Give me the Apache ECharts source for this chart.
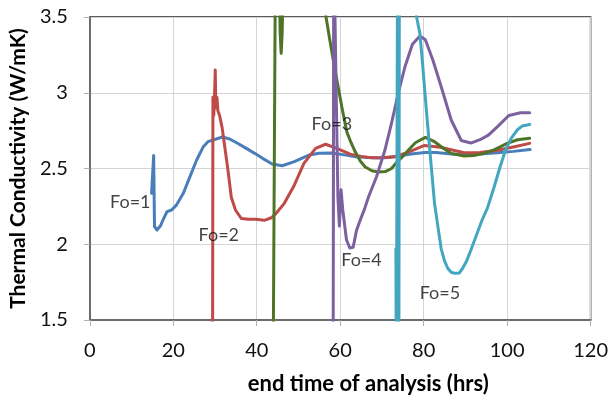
<!DOCTYPE html>
<html>
<head>
<meta charset="utf-8">
<script src="https://cdn.jsdelivr.net/npm/echarts@6/dist/echarts.min.js"></script>
<style>
  html, body { margin: 0; padding: 0; background: #fff; }
  #chart { width: 611px; height: 401px; }
</style>
</head>
<body>
<div id="chart"></div>
<script>
// Apparent thermal conductivity vs. end time of analysis, one curve per Fourier number.
// Values outside 1.5–3.5 are left in so the spikes run off the plot and get clipped.

const fo1Hours  = [14.8, 15.3, 15.5, 16.1, 16.9, 17.7, 18.5, 19.6, 20.8, 22.4, 24.0, 25.6, 27.2, 28.3, 30.3, 31.8, 33.5, 35.5, 37.5, 39.5, 41.4, 43.7, 46.1, 49.0, 52.5, 55.0, 58.0, 61.0, 63.7, 66.5, 69.2, 71.5, 74.0, 77.0, 80.3, 83.0, 86.0, 89.8, 93.5, 97.7, 101.5, 105.5];
const fo1Values = [2.336, 2.585, 2.116, 2.094, 2.12, 2.17, 2.215, 2.226, 2.26, 2.336, 2.446, 2.556, 2.644, 2.677, 2.695, 2.708, 2.695, 2.665, 2.633, 2.60, 2.567, 2.53, 2.518, 2.545, 2.589, 2.60, 2.603, 2.59, 2.578, 2.572, 2.569, 2.573, 2.583, 2.595, 2.606, 2.605, 2.597, 2.589, 2.595, 2.604, 2.613, 2.625];

const fo2Hours  = [29.4, 29.5, 29.7, 29.9, 30.05, 30.2, 30.45, 30.7, 31.1, 31.7, 32.3, 33.1, 33.9, 34.9, 36.3, 38.0, 39.8, 41.8, 43.5, 44.5, 46.6, 49.0, 51.3, 54.1, 56.5, 59.2, 62.4, 65.0, 67.5, 70.5, 73.1, 76.5, 80.2, 84.0, 89.7, 93.5, 97.7, 101.5, 105.4];
const fo2Values = [1.0, 2.97, 2.85, 2.99, 3.15, 2.9, 2.97, 2.88, 2.85, 2.77, 2.65, 2.49, 2.31, 2.226, 2.17, 2.165, 2.165, 2.158, 2.175, 2.2, 2.27, 2.39, 2.534, 2.633, 2.66, 2.633, 2.595, 2.58, 2.571, 2.572, 2.578, 2.61, 2.652, 2.64, 2.604, 2.605, 2.62, 2.642, 2.666];

const fo3Hours  = [43.9, 44.5, 45.3, 45.6, 45.85, 46.1, 46.5, 51.0, 56.6, 57.5, 58.5, 59.5, 60.5, 61.6, 62.6, 63.6, 64.8, 66.0, 67.6, 69.2, 70.8, 72.3, 73.5, 75.0, 76.3, 78.0, 80.4, 82.6, 84.2, 86.5, 89.7, 92.0, 94.5, 97.0, 100.0, 102.5, 105.4];
const fo3Values = [1.0, 4.0, 4.0, 3.4, 3.26, 3.4, 4.0, 4.5, 3.5, 3.35, 3.19, 3.04, 2.89, 2.74, 2.67, 2.61, 2.55, 2.51, 2.485, 2.477, 2.48, 2.50, 2.54, 2.58, 2.62, 2.67, 2.705, 2.677, 2.644, 2.60, 2.583, 2.585, 2.60, 2.625, 2.666, 2.69, 2.70];

const fo4Hours  = [58.3, 58.45, 58.9, 59.0, 59.45, 59.8, 60.2, 60.6, 61.0, 61.5, 62.3, 63.1, 63.9, 64.8, 65.8, 66.8, 68.7, 70.7, 72.3, 73.9, 75.5, 77.3, 79.1, 80.4, 82.2, 84.2, 86.6, 89.0, 91.3, 93.5, 95.5, 97.7, 100.4, 103.2, 105.4];
const fo4Values = [1.0, 4.0, 4.0, 4.0, 2.31, 2.12, 2.36, 2.23, 2.22, 2.03, 1.975, 1.98, 2.09, 2.16, 2.23, 2.314, 2.446, 2.62, 2.80, 2.996, 3.17, 3.32, 3.375, 3.35, 3.216, 3.04, 2.82, 2.685, 2.668, 2.69, 2.72, 2.776, 2.85, 2.868, 2.868];

const fo5Hours  = [73.35, 73.45, 73.75, 73.8, 74.0, 74.05, 74.1, 74.2, 76.0, 78.3, 79.1, 79.8, 80.6, 81.6, 82.6, 83.5, 84.2, 85.0, 85.8, 86.6, 87.5, 88.5, 89.3, 90.3, 91.3, 92.5, 94.0, 95.3, 96.9, 98.3, 99.6, 101.0, 102.4, 103.6, 105.4];
const fo5Values = [1.97, 1.0, 1.0, 4.5, 4.5, 1.0, 1.0, 4.5, 5.0, 3.5, 3.39, 3.17, 2.90, 2.58, 2.27, 2.10, 1.97, 1.89, 1.84, 1.815, 1.808, 1.81, 1.84, 1.89, 1.96, 2.05, 2.16, 2.24, 2.38, 2.51, 2.62, 2.70, 2.754, 2.78, 2.79];

// Curve names and where each name sits (hours, W/mK)
const curveNames  = ['Fo=1', 'Fo=2', 'Fo=3', 'Fo=4', 'Fo=5'];
const labelHours  = [9.7, 30.9, 58.0, 65.1, 83.9];
const labelValues = [2.279, 2.058, 2.794, 1.896, 1.678];

const xTicks = { min: 0, max: 120, step: 20 };
const yTicks = { min: 1.5, max: 3.5, step: 0.5 };

const colors = ['#4A7EBB', '#BE4B48', '#4E7428', '#7D60A0', '#43A6C0'];
const FONT = 'Lato, "Open Sans", sans-serif';

const curves = [
  [fo1Hours, fo1Values],
  [fo2Hours, fo2Values],
  [fo3Hours, fo3Values],
  [fo4Hours, fo4Values],
  [fo5Hours, fo5Values]
];

const zip = (xs, ys) => xs.map((x, i) => [x, ys[i]]);

const lineSeries = curves.map(([h, v], i) => ({
  name: curveNames[i],
  type: 'line',
  data: zip(h, v),
  showSymbol: false,
  clip: true,
  lineStyle: { color: colors[i], width: 3, join: 'round', cap: 'round' },
  itemStyle: { color: colors[i] },
  z: 2
}));

const labelSeries = {
  type: 'scatter',
  data: curveNames.map((n, i) => ({ value: [labelHours[i], labelValues[i]], name: n })),
  symbolSize: 1,
  itemStyle: { color: 'rgba(0,0,0,0)' },
  silent: true,
  z: 5,
  label: {
    show: true,
    position: 'inside',
    formatter: p => p.name,
    fontFamily: FONT,
    fontSize: 18,
    color: '#111'
  }
};

const chart = echarts.init(document.getElementById('chart'), null, { renderer: 'canvas' });
chart.setOption({
  animation: false,
  backgroundColor: '#fff',
  grid: {
    left: 89, right: 17, top: 17, bottom: 81,
    show: true,
    borderColor: '#262626',
    borderWidth: 1.5,
    backgroundColor: 'transparent'
  },
  xAxis: {
    type: 'value',
    min: xTicks.min, max: xTicks.max, interval: xTicks.step,
    name: 'end time of analysis (hrs)',
    nameLocation: 'middle',
    nameGap: 53,
    nameTextStyle: { fontFamily: FONT, fontSize: 22, fontWeight: 'bold', color: '#000', padding: [0, 0, 0, 56] },
    axisLine: { show: true, onZero: false, lineStyle: { color: '#6b6b6b', width: 2 } },
    axisTick: { show: true, inside: false, length: 6, lineStyle: { color: '#b0b0b0', width: 1 } },
    axisLabel: { fontFamily: FONT, fontSize: 20, color: '#111', margin: 21 },
    splitLine: { show: true, lineStyle: { color: '#d4d4d4', width: 1 } }
  },
  yAxis: {
    type: 'value',
    min: yTicks.min, max: yTicks.max, interval: yTicks.step,
    name: 'Thermal Conductivity (W/mK)',
    nameLocation: 'middle',
    nameRotate: 90,
    nameGap: 56,
    nameTextStyle: { fontFamily: FONT, fontSize: 21, fontWeight: 'bold', color: '#000' },
    axisLine: { show: true, lineStyle: { color: '#6b6b6b', width: 2 } },
    axisTick: { show: true, inside: false, length: 6, lineStyle: { color: '#b0b0b0', width: 1 } },
    axisLabel: { fontFamily: FONT, fontSize: 20, color: '#111', margin: 22 },
    splitLine: { show: true, lineStyle: { color: '#d4d4d4', width: 1 } }
  },
  series: [...lineSeries, labelSeries]
});
</script>
</body>
</html>
